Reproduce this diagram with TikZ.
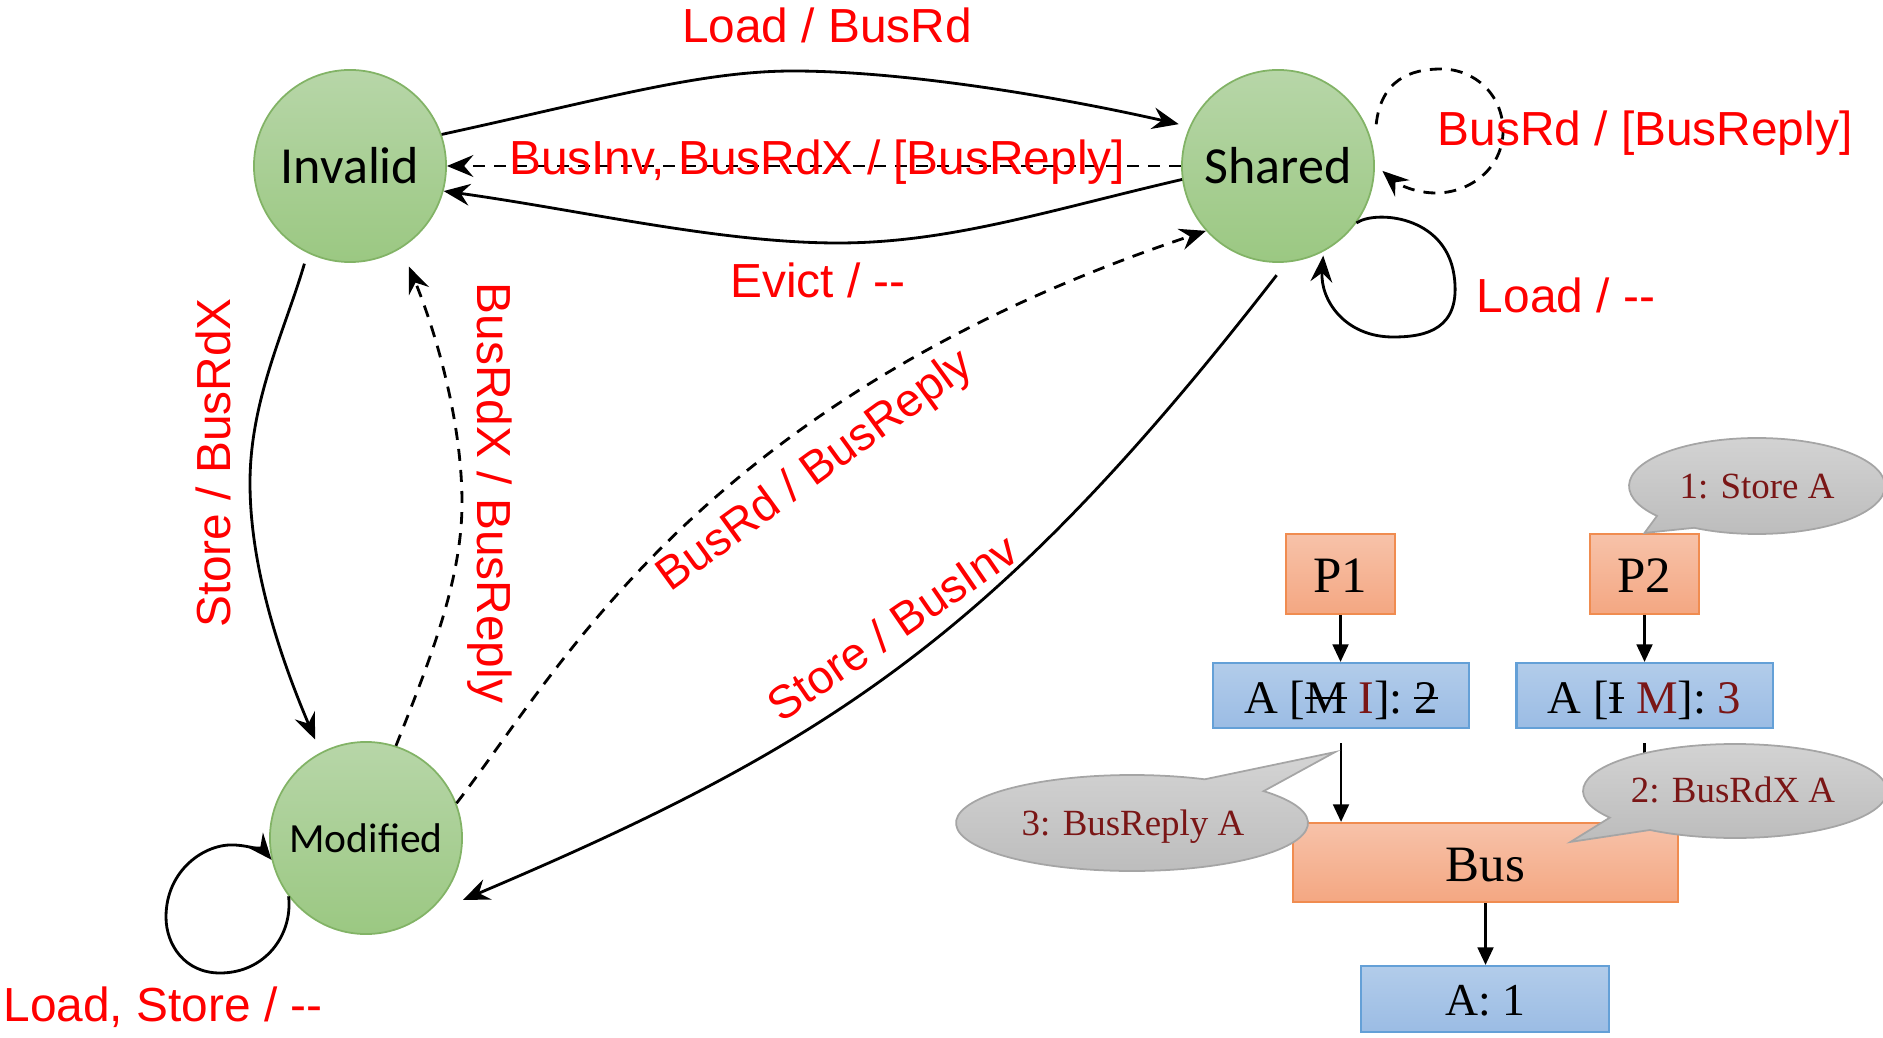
\documentclass[tikz,border=0pt]{standalone}
\usepackage{fontspec}
\setmainfont{Liberation Serif}
\newfontfamily\lblfont{Liberation Sans}
\newfontfamily\statefont{Carlito}
\usetikzlibrary{arrows.meta,calc}

\definecolor{lblred}{RGB}{255,0,0}
\definecolor{dred}{RGB}{122,22,22}
\definecolor{greentop}{RGB}{183,214,168}
\definecolor{greenbot}{RGB}{155,200,130}
\definecolor{greenline}{RGB}{130,179,102}
\definecolor{orangetop}{RGB}{247,194,169}
\definecolor{orangebot}{RGB}{244,167,130}
\definecolor{orangeline}{RGB}{240,140,80}
\definecolor{bluetop}{RGB}{178,204,234}
\definecolor{bluebot}{RGB}{155,188,228}
\definecolor{blueline}{RGB}{100,160,215}
\definecolor{graytop}{RGB}{212,212,212}
\definecolor{graybot}{RGB}{188,188,188}
\definecolor{grayline}{RGB}{165,165,165}

% horizontal strike-through over a piece of text
\newcommand{\struck}[1]{\setbox0=\hbox{#1}\rlap{\rule[0.3em]{\wd0}{0.6pt}}\box0\relax}

\begin{document}
\begin{tikzpicture}[x=0.01cm,y=-0.01cm,
  state/.style={circle, draw=greenline, line width=0.5pt, top color=greentop, bottom color=greenbot,
    minimum size=1.92cm, inner sep=0pt, font=\statefont\fontsize{14.8}{17}\selectfont},
  conn/.style={line width=0.8pt, -{Stealth[length=7.5pt,width=6.2pt,inset=2.6pt]}},
  dsh/.style={dash pattern=on 3.4pt off 2.6pt},
  lbl/.style={text=lblred, inner sep=0pt, font=\lblfont\fontsize{13.6}{16}\selectfont},
  obox/.style={rectangle, draw=orangeline, line width=0.6pt, top color=orangetop, bottom color=orangebot,
    inner sep=0pt, text depth=0pt},
  bbox/.style={rectangle, draw=blueline, line width=0.6pt, top color=bluetop, bottom color=bluebot,
    inner sep=0pt, text depth=0pt},
  barr/.style={line width=0.7pt, -{Triangle[length=5pt,width=4.5pt]}},
  callout/.style={draw=grayline, line width=0.5pt, top color=graytop, bottom color=graybot},
  ctext/.style={text=dred, inner sep=0pt, text height=7.2pt, text depth=0pt, font=\fontsize{10.5}{12}\selectfont}
]
\useasboundingbox (0,0) rectangle (1883,1037);

% ---------- MSI states ----------
\node[state] (inv) at (350,166) {Invalid};
\node[state] (sh) at (1278,166) {Shared};
\node[state, font=\statefont\fontsize{11.8}{14}\selectfont] (mod) at (366,838) {Modified};

% ---------- transitions ----------
% Invalid -> Shared
\draw[conn, shorten >=0.11cm] (inv.19) .. controls (600,100) and (700,71) .. (793,71)
  .. controls (900,71) and (1050,95) .. (sh.156);
% Shared -> Invalid (snooped)
\draw[conn, dsh] (sh.west) -- (inv.east);
% Shared -> Invalid (evict)
\draw[conn] (sh.188) .. controls (1050,210) and (950,243) .. (838,243)
  .. controls (720,243) and (580,210) .. (inv.-15);
% Invalid -> Modified
\draw[conn, shorten <=0.11cm, shorten >=0.14cm] (inv.-116) .. controls (285,330) and (250,400) .. (250,483)
  .. controls (250,580) and (290,680) .. (mod.118);
% Modified -> Invalid (snooped)
\draw[conn, dsh, shorten >=0.2cm] (mod.72) .. controls (430,660) and (462,580) .. (462,503)
  .. controls (462,420) and (435,330) .. (inv.-58);
% Modified -> Shared (snooped)
\draw[conn, dsh] (mod.21) .. controls (560,670) and (700,400) .. (sh.222);
% Shared -> Modified
\draw[conn, shorten <=0.16cm, shorten >=0.45cm] (sh.-85) .. controls (999,633) and (831,744) .. (mod.-55);
% Shared self loops
\draw[conn, dsh, shorten <=0.25cm, shorten >=0.1cm] (sh.10) .. controls (1381,80) and (1410,69) .. (1441,69)
  .. controls (1475,69) and (1503,95) .. (1503,131)
  .. controls (1503,168) and (1470,193) .. (1436,193)
  .. controls (1412,193) and (1395,182) .. (sh.1);
\draw[conn, shorten >=0.04cm] (sh.-36) .. controls (1375,210) and (1445,215) .. (1454,275)
  .. controls (1462,330) and (1425,337) .. (1393,337)
  .. controls (1345,337) and (1320,300) .. (sh.-62);
% Modified self loop
\draw[conn] (mod.217) .. controls (293,935) and (265,973) .. (220,973)
  .. controls (185,973) and (166,945) .. (166,917)
  .. controls (166,870) and (205,843) .. (235,845)
  .. controls (252,846) and (265,852) .. (mod.193);

% ---------- transition labels ----------
\node[lbl, anchor=base] (tLoadRd) at (827,43) {Load / BusRd};
\node[lbl, anchor=base] (tInv) at (817,175) {BusInv, BusRdX / [BusReply]};
\node[lbl, anchor=base] (tEvict) at (818,298) {Evict / -{}-};
\node[lbl, anchor=base] (tShRd) at (1645,146) {BusRd / [BusReply]};
\node[lbl, anchor=base] (tShLoad) at (1566,313) {Load / -{}-};
\node[lbl, anchor=base] (tModLS) at (163,1021) {Load, Store / -{}-};
\node[lbl, anchor=base, rotate=90] (tStoreX) at (230,463) {Store / BusRdX};
\node[lbl, anchor=base, rotate=-90] (tRdX) at (477,493) {BusRdX / BusReply};
\node[lbl, rotate=36, font=\lblfont\fontsize{13.2}{16}\selectfont] (tRd) at (816,472) {BusRd / BusReply};
\node[lbl, rotate=34.5, font=\lblfont\fontsize{13.2}{16}\selectfont] (tStInv) at (892,627) {Store / BusInv};

% ---------- example system ----------
\node[obox, minimum width=1.09cm, minimum height=0.80cm, text height=10.4pt, font=\fontsize{14.5}{17}\selectfont] (p1) at (1340.5,574) {P1};
\node[obox, minimum width=1.09cm, minimum height=0.80cm, text height=10.4pt, font=\fontsize{14.5}{17}\selectfont] (p2) at (1644.5,574) {P2};
\node[bbox, minimum width=2.56cm, minimum height=0.65cm, text height=10pt, font=\fontsize{13.3}{16}\selectfont] (c1) at (1341,695.5)
  {A [\struck{M} \textcolor{dred}{I}]: \struck{2}};
\node[bbox, minimum width=2.56cm, minimum height=0.65cm, text height=10pt, font=\fontsize{13.3}{16}\selectfont] (c2) at (1644.5,695.5)
  {A [\struck{I} \textcolor{dred}{M}]: \textcolor{dred}{3}};
\node[obox, minimum width=3.85cm, minimum height=0.79cm, text height=10.6pt, font=\fontsize{14.5}{17}\selectfont] (bus) at (1485.5,862.5) {Bus};
\node[bbox, minimum width=2.48cm, minimum height=0.66cm, text height=9.4pt, font=\fontsize{13}{16}\selectfont] (mem) at (1485,999) {A: 1};

\draw[barr] (p1.south) -- (p1.south |- c1.north);
\draw[barr] (p2.south) -- (c2.north);
\draw[barr, shorten <=0.14cm] (c1.south) -- (c1.south |- bus.north);
\draw[barr, shorten <=0.14cm] (c2.south) -- (c2.south |- bus.north);
\draw[barr] (bus.south) -- (bus.south |- mem.north);

% ---------- speech bubbles ----------
\coordinate (k1) at (1757,486);
\draw[callout] ($(k1)+(141.4:128 and 48)$) arc[start angle=141.4, end angle=479.4, x radius=128, y radius=48]
  -- (p2.north) -- cycle;
\node[ctext] (s1) at (k1) {1: Store A};

\coordinate (k3) at (1132,823);
\draw[callout] ($(k3)+(318.4:176 and 48)$) arc[start angle=318.4, end angle=654.4, x radius=176, y radius=48]
  -- ($(c1.south)+(-6,23)$) -- cycle;
\node[ctext] (s3) at (1133,823) {3: BusReply A};

\coordinate (k2) at (1735,791);
\draw[callout] ($(k2)+(145.5:152 and 47)$) arc[start angle=145.5, end angle=484, x radius=152, y radius=47]
  -- ($(bus.north)+(85,20)$) -- cycle;
\node[ctext] (s2) at (1733,790) {2: BusRdX A};
\end{tikzpicture}
\end{document}
